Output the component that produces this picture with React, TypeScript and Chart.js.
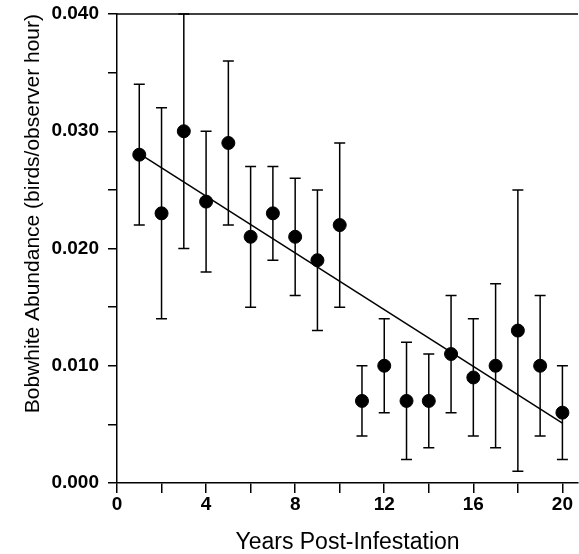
import React, { useEffect, useRef } from "react";
import { Chart, registerables } from "chart.js";

Chart.register(...registerables);

const years = [1, 2, 3, 4, 5, 6, 7, 8, 9, 10, 11, 12, 13, 14, 15, 16, 17, 18, 19, 20];
const abundance = [0.028, 0.023, 0.030, 0.024, 0.029, 0.021, 0.023, 0.021, 0.019, 0.022, 0.007, 0.010, 0.007, 0.007, 0.011, 0.009, 0.010, 0.013, 0.010, 0.006];
const upper = [0.034, 0.032, 0.040, 0.030, 0.036, 0.027, 0.027, 0.026, 0.025, 0.029, 0.010, 0.014, 0.012, 0.011, 0.016, 0.014, 0.017, 0.025, 0.016, 0.010];
const lower = [0.022, 0.014, 0.020, 0.018, 0.022, 0.015, 0.019, 0.016, 0.013, 0.015, 0.004, 0.006, 0.002, 0.003, 0.006, 0.004, 0.003, 0.001, 0.004, 0.002];
const trendX = [1, 20];
const trendY = [0.0281, 0.0051];
const xLabelTicks = [0, 4, 8, 12, 16, 20];

const FONT = "'Liberation Sans', Arial, sans-serif";

const errorBarPlugin = {
  id: "errorBars",
  afterDatasetsDraw(chart: any) {
    const { ctx, scales, chartArea } = chart;
    const xs = scales.x;
    const ys = scales.y;
    ctx.save();
    ctx.strokeStyle = "#000";
    ctx.lineWidth = 1.5;
    // top frame line
    ctx.beginPath();
    ctx.moveTo(chartArea.left, chartArea.top);
    ctx.lineTo(chartArea.right, chartArea.top);
    ctx.stroke();
    for (let i = 0; i < years.length; i++) {
      const px = xs.getPixelForValue(years[i]);
      const pTop = ys.getPixelForValue(upper[i]);
      const pBot = ys.getPixelForValue(lower[i]);
      const cap = 5.5;
      ctx.beginPath();
      ctx.moveTo(px, pTop);
      ctx.lineTo(px, pBot);
      ctx.moveTo(px - cap, pTop);
      ctx.lineTo(px + cap, pTop);
      ctx.moveTo(px - cap, pBot);
      ctx.lineTo(px + cap, pBot);
      ctx.stroke();
    }
    ctx.restore();
  },
};

export default function App() {
  const ref = useRef<HTMLCanvasElement>(null);
  useEffect(() => {
    if (!ref.current) return;
    Chart.defaults.font.family = FONT;
    Chart.defaults.color = "#000";
    const chart = new Chart(ref.current, {
      type: "scatter",
      data: {
        datasets: [
          {
            type: "line",
            label: "trend",
            data: trendX.map((x, i) => ({ x, y: trendY[i] })),
            borderColor: "#000",
            borderWidth: 1.5,
            pointRadius: 0,
            fill: false,
          } as any,
          {
            label: "abundance",
            data: years.map((x, i) => ({ x, y: abundance[i] })),
            backgroundColor: "#000",
            borderColor: "#000",
            pointRadius: 6.5,
            pointHoverRadius: 6.5,
          },
        ],
      },
      options: {
        animation: false,
        responsive: false,
        maintainAspectRatio: false,
        layout: { autoPadding: false, padding: { left: 0, right: 1, top: 14, bottom: 0 } },
        plugins: { legend: { display: false }, tooltip: { enabled: false } },
        scales: {
          x: {
            type: "linear",
            min: 0,
            max: 20.7,
            afterFit: (s: any) => {
              s.height = 554 - 483;
              s.paddingLeft = 0;
              s.paddingRight = 0;
            },
            border: { display: true, color: "#000", width: 1.5 },
            grid: { drawOnChartArea: false, drawTicks: true, tickLength: 10, color: "#000", lineWidth: 1.5 },
            ticks: {
              stepSize: 2,
              includeBounds: false,
              maxRotation: 0,
              autoSkip: false,
              padding: 0,
              font: { size: 19, weight: "bold" },
              callback: (v: any) => (xLabelTicks.includes(Number(v)) ? String(v) : ""),
            },
            title: {
              display: true,
              text: "Years Post-Infestation",
              font: { size: 23, lineHeight: 1 },
              padding: { top: 0, bottom: 0 },
            },
          },
          y: {
            type: "linear",
            min: 0,
            max: 0.04,
            afterFit: (s: any) => {
              s.width = 117;
              s.paddingTop = 0;
              s.paddingBottom = 0;
            },
            border: { display: true, color: "#000", width: 1.5 },
            grid: { drawOnChartArea: false, drawTicks: true, tickLength: 9, color: "#000", lineWidth: 1.5 },
            ticks: {
              stepSize: 0.005,
              autoSkip: false,
              padding: 9,
              font: { size: 19, weight: "bold" },
              callback: (v: any) => {
                const m = Math.round(Number(v) * 1000);
                return m % 10 === 0 ? (m / 1000).toFixed(3) : "";
              },
            },
            title: {
              display: true,
              text: "Bobwhite Abundance (birds/observer hour)",
              align: "end",
              font: { size: 21 },
              padding: { top: 21, bottom: 0 },
            },
          },
        },
      },
      plugins: [errorBarPlugin],
    });
    return () => chart.destroy();
  }, []);
  return (
    <div style={{ position: "fixed", left: 0, top: 0, width: 579, height: 554, background: "#fff" }}>
      <canvas ref={ref} width={579} height={554} style={{ width: 579, height: 554 }} />
    </div>
  );
}
